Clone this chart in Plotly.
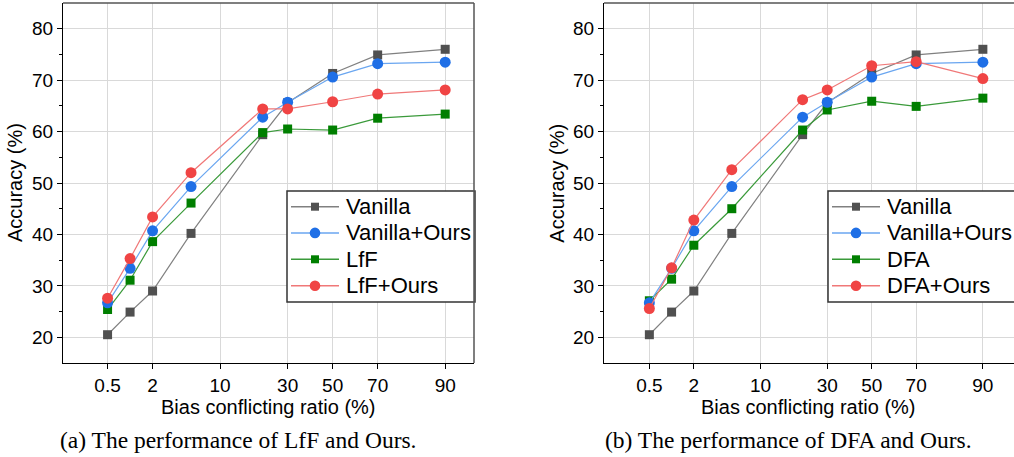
import numpy as np
import plotly.graph_objects as go

# ---------------- data ----------------
ratios = [0.5, 1, 2, 5, 20, 30, 50, 70, 90]
tick_labels = [0.5, 2, 10, 30, 50, 70, 90]

vanilla = [20.5, 24.9, 29.0, 40.2, 59.4, 65.6, 71.3, 74.9, 76.0]
vanilla_ours = [26.7, 33.4, 40.7, 49.3, 62.8, 65.7, 70.6, 73.2, 73.5]
lff = [25.4, 31.1, 38.6, 46.1, 59.8, 60.5, 60.3, 62.6, 63.4]
lff_ours = [27.6, 35.3, 43.4, 52.0, 64.4, 64.4, 65.8, 67.3, 68.1]
dfa = [27.1, 31.3, 37.9, 45.0, 60.3, 64.2, 65.9, 64.9, 66.5]
dfa_ours = [25.6, 33.5, 42.8, 52.6, 66.2, 68.1, 72.8, 73.6, 70.3]

# custom (piecewise, log-interpolated) axis scale: tick value -> axis unit
scale_anchor_vals = [0.5, 2, 10, 30, 50, 70, 90]
scale_anchor_units = [0, 1, 2.5, 4, 5, 6, 7.5]


def xscale(v):
    return np.interp(np.log10(v), np.log10(scale_anchor_vals), scale_anchor_units)


xs = xscale(ratios)
tick_pos = xscale(tick_labels)

W, H = 1014, 457
FONT = "Arial, Liberation Sans, sans-serif"


def px(x):
    return x / W


def py(y):
    return 1 - y / H


styles = {
    "Vanilla": dict(line="#808080", marker="#505050", symbol="square", size=9),
    "Vanilla+Ours": dict(line="#6aa6f0", marker="#1f6fe6", symbol="circle", size=11),
    "Method": dict(line="#3a9a3a", marker="#007f00", symbol="square", size=9),
    "Method+Ours": dict(line="#f07878", marker="#f04444", symbol="circle", size=11),
}

fig = go.Figure()

panels = [
    ("x", "y", "LfF", lff, lff_ours, 287),
    ("x2", "y2", "DFA", dfa, dfa_ours, 828),
]

for xr, yr, mname, m, mo, legx in panels:
    series = [
        ("Vanilla", vanilla, styles["Vanilla"]),
        (mname, m, styles["Method"]),
        ("Vanilla+Ours", vanilla_ours, styles["Vanilla+Ours"]),
        (mname + "+Ours", mo, styles["Method+Ours"]),
    ]
    for name, vals, st in series:
        fig.add_trace(go.Scatter(
            x=xs, y=vals, name=name, mode="lines+markers",
            line=dict(color=st["line"], width=1.2),
            marker=dict(color=st["marker"], symbol=st["symbol"], size=st["size"],
                        line=dict(width=0)),
            xaxis=xr, yaxis=yr, showlegend=False,
        ))

    # ---- hand-built legend (box, sample lines, symbols, labels) ----
    fig.add_shape(type="rect", xref="paper", yref="paper",
                  x0=px(legx), x1=px(legx + 188), y0=py(191), y1=py(302),
                  line=dict(color="#333333", width=1.5), fillcolor="white", layer="above")
    legend_items = [
        ("Vanilla", styles["Vanilla"]),
        ("Vanilla+Ours", styles["Vanilla+Ours"]),
        (mname, styles["Method"]),
        (mname + "+Ours", styles["Method+Ours"]),
    ]
    row_y = [206.7, 232.9, 259.3, 285.8]
    for (label, st), ry in zip(legend_items, row_y):
        fig.add_shape(type="line", xref="paper", yref="paper",
                      x0=px(legx + 4), x1=px(legx + 52), y0=py(ry), y1=py(ry),
                      line=dict(color=st["line"], width=1.5), layer="above")
        cx = legx + 28
        if st["symbol"] == "square":
            h = 4
            fig.add_shape(type="rect", xref="paper", yref="paper",
                          x0=px(cx - h), x1=px(cx + h), y0=py(ry - h), y1=py(ry + h),
                          line=dict(width=0), fillcolor=st["marker"], layer="above")
        else:
            r = 5.3
            fig.add_shape(type="circle", xref="paper", yref="paper",
                          x0=px(cx - r), x1=px(cx + r), y0=py(ry - r), y1=py(ry + r),
                          line=dict(width=0), fillcolor=st["marker"], layer="above")
        fig.add_annotation(text=label, x=px(legx + 57), y=py(ry), xref="paper", yref="paper",
                           xanchor="left", yanchor="middle", showarrow=False,
                           font=dict(family=FONT, size=22, color="black"))

xcommon = dict(
    tickmode="array", tickvals=tick_pos, ticktext=[str(t) for t in tick_labels],
    showgrid=True, gridcolor="#d9d9d9", gridwidth=1.3,
    showline=True, linecolor="black", linewidth=1.3,
    ticks="outside", ticklen=5, tickcolor="black", tickwidth=1.2,
    tickfont=dict(family=FONT, size=19, color="black"),
    zeroline=False, automargin=False,
)
ycommon = dict(
    range=[15, 85], tickmode="array", tickvals=[20, 30, 40, 50, 60, 70, 80],
    showgrid=True, gridcolor="#d9d9d9", gridwidth=1.3,
    showline=True, linecolor="black", linewidth=1.3,
    ticks="outside", ticklen=5, tickcolor="black", tickwidth=1.2,
    minor=dict(tickmode="array", tickvals=[25, 35, 45, 55, 65, 75], ticks="outside",
               ticklen=3, tickcolor="black", showgrid=False),
    tickfont=dict(family=FONT, size=19, color="black"),
    zeroline=False, automargin=False,
)

ydom = [py(363), py(3)]
fig.update_layout(
    width=W, height=H, margin=dict(l=0, r=0, t=0, b=0, autoexpand=False),
    paper_bgcolor="white", plot_bgcolor="white",
    xaxis=dict(xcommon, domain=[px(63), px(474)], range=[-0.99, 8.14], anchor="y"),
    yaxis=dict(ycommon, domain=ydom, anchor="x"),
    xaxis2=dict(xcommon, domain=[px(604), 1.0], range=[-1.02, 8.2], anchor="y2"),
    yaxis2=dict(ycommon, domain=ydom, anchor="x2"),
    showlegend=False,
)

# top / right frame lines (dark gray); right panel is cropped at the page edge
for xr, yr, right in [("x", "y", True), ("x2", "y2", False)]:
    fig.add_shape(type="line", xref=xr + " domain", yref=yr + " domain",
                  x0=0, x1=1, y0=1, y1=1, line=dict(color="#555555", width=1.5))
    if right:
        fig.add_shape(type="line", xref=xr + " domain", yref=yr + " domain",
                      x0=1, x1=1, y0=0, y1=1, line=dict(color="#555555", width=1.5))

# axis titles
for cx in [268.5, 808.5]:
    fig.add_annotation(text="Bias conflicting ratio (%)", x=px(cx), y=py(407),
                       xref="paper", yref="paper", xanchor="center", yanchor="middle",
                       showarrow=False, font=dict(family=FONT, size=20, color="black"))
for cx in [15, 556.7]:
    fig.add_annotation(text="Accuracy (%)", x=px(cx), y=py(183), textangle=-90,
                       xref="paper", yref="paper", xanchor="center", yanchor="middle",
                       showarrow=False, font=dict(family=FONT, size=20, color="black"))

captions = [("(a) The performance of LfF and Ours.", 238),
            ("(b) The performance of DFA and Ours.", 788)]
for text, cx in captions:
    fig.add_annotation(text=text, x=px(cx), y=py(440), xref="paper", yref="paper",
                       xanchor="center", yanchor="middle", showarrow=False, borderpad=0,
                       font=dict(family="Liberation Serif, Times New Roman, serif", size=23.5,
                                 color="black"))

fig.write_html("out.html", post_script="document.body.style.margin='0';",
               config={"displayModeBar": False})
